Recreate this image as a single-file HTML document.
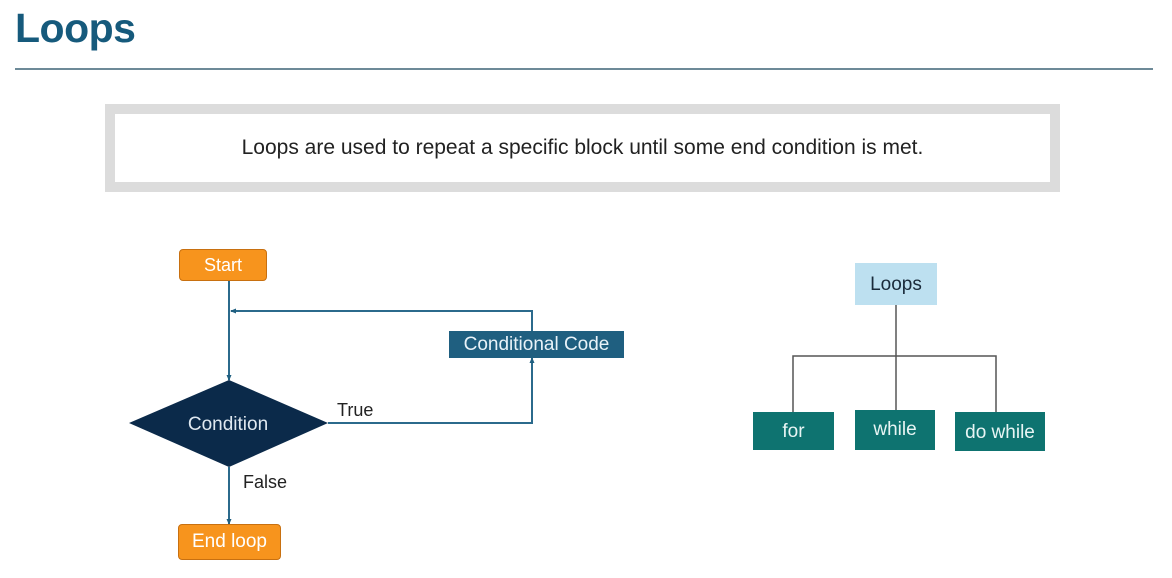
<!DOCTYPE html>
<html><head><style>
body{margin:0;width:1172px;height:578px;background:#fff;overflow:hidden;font-family:"Liberation Sans",sans-serif;position:relative}
.a{position:absolute}
</style></head><body>
<div class="a" style="left:15px;top:5px;font-size:41px;font-weight:bold;color:#165a7c;letter-spacing:-0.5px">Loops</div>
<div class="a" style="left:15px;top:68px;width:1138px;height:2px;background:#6d8a98"></div>
<div class="a" style="left:105px;top:104px;width:935px;height:68px;border:10px solid #dcdcdc;background:#fff;text-align:center;line-height:68px;font-size:21px;color:#222">Loops are used to repeat a specific block until some end condition is met.</div>
<svg class="a" style="left:0;top:0" width="1172" height="578">
<defs><marker id="ar" markerUnits="userSpaceOnUse" markerWidth="6" markerHeight="6" refX="5" refY="3" orient="auto"><path d="M0,0.5 L6,3 L0,5.5z" fill="#1f5f80"/></marker></defs>
<g stroke="#2b6a8c" stroke-width="2" fill="none">
<line x1="229" y1="279" x2="229" y2="380" marker-end="url(#ar)"/>
<polyline points="328,423 532,423 532,358" marker-end="url(#ar)"/>
<polyline points="532,332 532,311 231,311" marker-end="url(#ar)"/>
<line x1="229" y1="467" x2="229" y2="524" marker-end="url(#ar)"/>
</g>
<polygon points="129,423 229,380 328,423 229,467" fill="#0b2a4a"/>
<text x="228" y="430" text-anchor="middle" font-size="19" fill="#dfe8f0" font-family="Liberation Sans">Condition</text>
<text x="337" y="416" font-size="18" fill="#222" font-family="Liberation Sans">True</text>
<text x="243" y="488" font-size="18" fill="#222" font-family="Liberation Sans">False</text>
<g stroke="#555" stroke-width="1.5" fill="none">
<line x1="896" y1="305" x2="896" y2="410"/>
<polyline points="793,412 793,356 996,356 996,412"/>
</g>
</svg>
<div class="a" style="left:179px;top:249px;width:86px;height:30px;background:#f7941d;border:1px solid #c87010;border-radius:4px;color:#fff;font-size:18px;text-align:center;line-height:30px">Start</div>
<div class="a" style="left:178px;top:524px;width:101px;height:34px;background:#f7941d;border:1px solid #c87010;border-radius:4px;color:#fff;font-size:19px;text-align:center;line-height:34px">End loop</div>
<div class="a" style="left:449px;top:331px;width:175px;height:27px;background:#1f5f80;color:#e8f2f8;font-size:19px;text-align:center;line-height:27px">Conditional Code</div>
<div class="a" style="left:855px;top:263px;width:82px;height:42px;background:#bde0f0;color:#1a2a3a;font-size:19px;text-align:center;line-height:44px">Loops</div>
<div class="a" style="left:753px;top:412px;width:81px;height:38px;background:#0e7370;color:#e8f5f4;font-size:19px;text-align:center;line-height:40px">for</div>
<div class="a" style="left:855px;top:410px;width:80px;height:40px;background:#0e7370;color:#e8f5f4;font-size:19px;text-align:center;line-height:40px">while</div>
<div class="a" style="left:955px;top:412px;width:90px;height:39px;background:#0e7370;color:#e8f5f4;font-size:19px;text-align:center;line-height:42px">do while</div>
</body></html>
